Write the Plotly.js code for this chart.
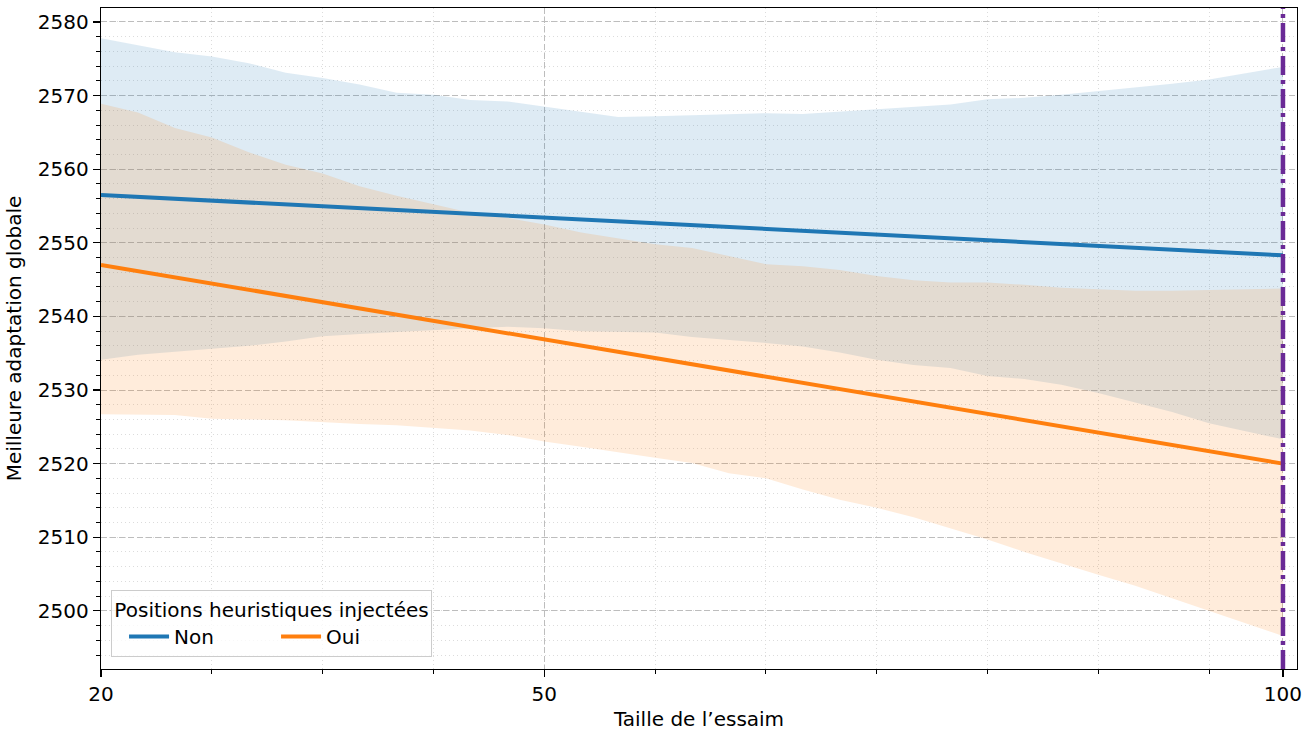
<!DOCTYPE html>
<html>
<head>
<meta charset="utf-8">
<script src="https://cdn.plot.ly/plotly-3.0.1.min.js"></script>
<style>html,body{margin:0;padding:0;background:#fff;}#chart{width:1314px;height:731px;}</style>
</head>
<body>
<div id="chart"></div>
<script>
// Band sample positions (swarm size)
const xGrid = [20, 22.5, 25, 27.5, 30, 32.5, 35, 37.5, 40, 42.5, 45, 47.5, 50, 52.5, 55, 57.5, 60,
  62.5, 65, 67.5, 70, 72.5, 75, 77.5, 80, 82.5, 85, 87.5, 90, 92.5, 95, 97.5, 100];

// "Non" confidence band
const nonUpper = [2577.8, 2576.8, 2575.9, 2575.3, 2574.4, 2573.1, 2572.4, 2571.5, 2570.4, 2570.1, 2569.4, 2569.2, 2568.5,
  2567.7, 2567.1, 2567.2, 2567.3, 2567.4, 2567.6, 2567.5, 2567.8, 2568.1, 2568.4, 2568.8, 2569.5, 2569.7, 2570.1,
  2570.6, 2571.0, 2571.6, 2572.2, 2573.0, 2573.9];
const nonLower = [2534.1, 2534.8, 2535.2, 2535.6, 2536.0, 2536.6, 2537.3, 2537.6, 2537.9, 2538.2, 2538.4, 2538.6, 2538.4,
  2538.0, 2537.9, 2537.8, 2537.2, 2536.8, 2536.4, 2535.9, 2535.1, 2534.1, 2533.4, 2533.0, 2531.9, 2531.5, 2530.7,
  2529.6, 2528.3, 2527.0, 2525.5, 2524.4, 2523.3];

// "Oui" confidence band
const ouiUpper = [2568.9, 2567.7, 2565.6, 2564.3, 2562.3, 2560.6, 2559.4, 2557.7, 2556.4, 2555.3, 2554.1, 2553.4, 2552.5,
  2551.4, 2550.6, 2549.8, 2549.3, 2548.2, 2547.1, 2546.8, 2546.3, 2545.5, 2544.9, 2544.6, 2544.6, 2544.3, 2543.9,
  2543.7, 2543.5, 2543.5, 2543.6, 2543.7, 2543.8];
const ouiLower = [2526.7, 2526.7, 2526.6, 2526.1, 2526.0, 2525.9, 2525.7, 2525.4, 2525.2, 2524.9, 2524.5, 2523.9, 2523.0,
  2522.3, 2521.6, 2520.8, 2520.1, 2518.7, 2518.0, 2516.5, 2515.1, 2514.0, 2512.7, 2511.2, 2509.7, 2508.0, 2506.4,
  2504.9, 2503.4, 2501.7, 2500.0, 2498.3, 2496.6];

// Fitted lines
const lineX = [20, 40, 60, 80, 100];
const nonMean = [2556.5, 2554.45, 2552.4, 2550.35, 2548.3];
const ouiMean = [2547.0, 2540.25, 2533.5, 2526.75, 2520.0];

const seriesNames = ["Non", "Oui"];
const xTickVals = [20, 50, 100];
const yTickVals = [2500, 2510, 2520, 2530, 2540, 2550, 2560, 2570, 2580];
const markerX = 100;

const BLUE = "#1f77b4", ORANGE = "#ff7f0e";
const FONT = "DejaVu Sans, sans-serif";
const FS = 20;

function band(upper, lower, fillcolor) {
  return {
    x: xGrid.concat(xGrid.slice().reverse()),
    y: upper.concat(lower.slice().reverse()),
    type: "scatter", mode: "lines", fill: "toself", fillcolor: fillcolor,
    line: {width: 0, color: "rgba(0,0,0,0)"}, showlegend: false, hoverinfo: "skip"
  };
}

const traces = [
  band(nonUpper, nonLower, "rgba(31,119,180,0.15)"),
  band(ouiUpper, ouiLower, "rgba(255,127,14,0.15)"),
  {x: lineX, y: nonMean, type: "scatter", mode: "lines", name: seriesNames[0],
   line: {color: BLUE, width: 4}},
  {x: lineX, y: ouiMean, type: "scatter", mode: "lines", name: seriesNames[1],
   line: {color: ORANGE, width: 4}}
];

const axisCommon = {
  showline: true, linecolor: "#000", linewidth: 1.3, mirror: true,
  ticks: "outside", ticklen: 7, tickwidth: 1.3, tickcolor: "#000",
  showgrid: true, gridcolor: "#bdbdbd", gridwidth: 1, griddash: "6px,3px",
  zeroline: false,
  tickfont: {family: FONT, size: FS, color: "#000"}
};

const layout = {
  width: 1314, height: 731,
  margin: {l: 101, r: 17, t: 8, b: 62},
  paper_bgcolor: "#fff", plot_bgcolor: "#fff",
  font: {family: FONT, size: FS, color: "#000"},
  xaxis: Object.assign({}, axisCommon, {
    range: [20, 100.95], tickmode: "array", tickvals: xTickVals, ticktext: xTickVals.map(String),
    title: {text: "Taille de l\u2019essaim", font: {family: FONT, size: FS}, standoff: 6},
    minor: {tick0: 20, dtick: 7.5, ticks: "outside", ticklen: 4, tickwidth: 1, tickcolor: "#000",
            showgrid: true, gridcolor: "#dcdcdc", gridwidth: 1, griddash: "1px,3px"}
  }),
  yaxis: Object.assign({}, axisCommon, {
    range: [2492.1, 2581.9], tickmode: "array", tickvals: yTickVals, ticktext: yTickVals.map(String),
    title: {text: "Meilleure adaptation globale", font: {family: FONT, size: FS}, standoff: 10},
    minor: {tick0: 2500, dtick: 2, ticks: "outside", ticklen: 4, tickwidth: 1, tickcolor: "#000",
            showgrid: true, gridcolor: "#dcdcdc", gridwidth: 1, griddash: "1px,3px"}
  }),
  shapes: [{
    type: "line", xref: "x", yref: "paper", x0: markerX, x1: markerX, y0: 0, y1: 1,
    line: {color: "#6a2a96", width: 4.5, dash: "19px,5px,4px,5px"}, layer: "above"
  }],
  legend: {
    x: 0.0084, y: 0.018, xanchor: "left", yanchor: "bottom",
    orientation: "h", bgcolor: "rgba(255,255,255,0.8)", bordercolor: "#cccccc", borderwidth: 1,
    font: {family: FONT, size: FS, color: "#000"},
    title: {text: "Positions heuristiques injectées", side: "top center", font: {family: FONT, size: FS}},
    entrywidth: 85, itemwidth: 40, indentation: 12
  },
  showlegend: true
};

Plotly.newPlot("chart", traces, layout, {displayModeBar: false, staticPlot: true});
</script>
</body>
</html>
